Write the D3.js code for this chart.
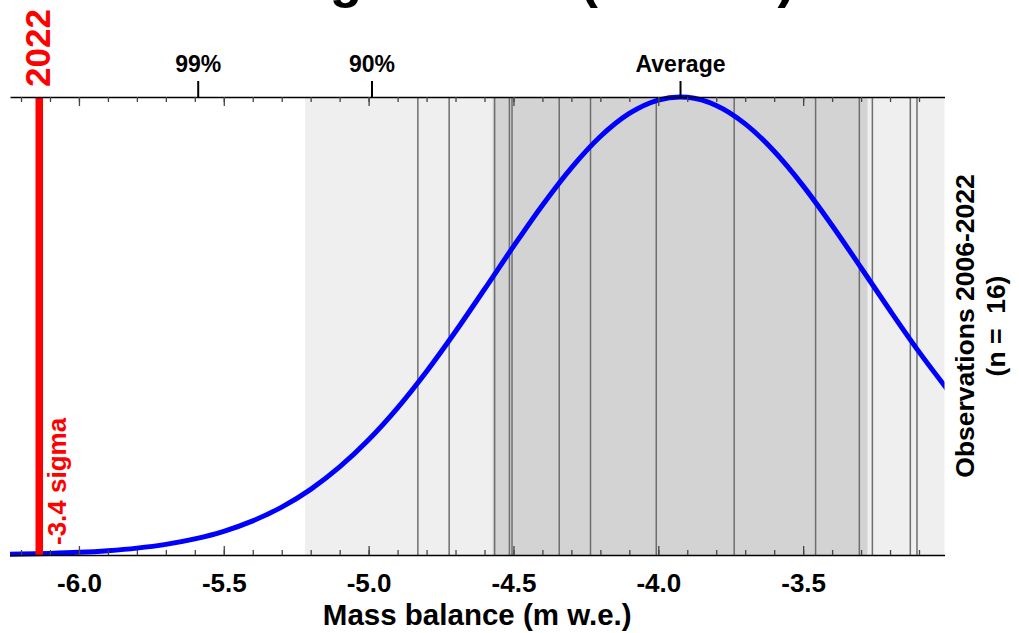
<!DOCTYPE html>
<html>
<head>
<meta charset="utf-8">
<script src="https://cdn.jsdelivr.net/npm/d3@7"></script>
<style>
  body { margin: 0; background: #fff; }
  svg text { font-family: "Liberation Sans", Arial, sans-serif; font-weight: bold; }
</style>
</head>
<body>
<div id="container"></div>
<script>
// single years 2006-2022 (m w.e.)
const observations = [-4.830, -4.722, -4.565, -4.514, -4.505, -4.342, -4.234, -4.007,
                      -3.738, -3.457, -3.306, -3.261, -3.130, -3.107];
const meanValue = -3.925;
const sdValue = 0.647;
const year2022 = -6.137;

// fitted normal curve, relative density
const curveX = [-6.24, -6.2, -6.1, -6.0, -5.9, -5.8, -5.7, -5.6, -5.5, -5.4, -5.3, -5.2, -5.1,
                -5.0, -4.9, -4.8, -4.7, -4.6, -4.5, -4.4, -4.3, -4.2, -4.1, -4.0, -3.925,
                -3.9, -3.8, -3.7, -3.6, -3.5, -3.4, -3.3, -3.2, -3.1, -3.0];
const curveY = [0.0017, 0.0021, 0.0035, 0.0058, 0.0095, 0.0150, 0.0232, 0.0351, 0.0517, 0.0744,
                0.1046, 0.1434, 0.1922, 0.2515, 0.3213, 0.4007, 0.4880, 0.5803, 0.6738, 0.7638,
                0.8454, 0.9137, 0.9641, 0.9933, 1.0, 0.9993, 0.9815, 0.9413, 0.8815, 0.8060,
                0.7195, 0.6272, 0.5338, 0.4435, 0.3599];

const majorTicks = [-6.0, -5.5, -5.0, -4.5, -4.0, -3.5];
const topLabels = ["99%", "90%", "Average"];
const topValues = [-5.590, -4.990, -3.925];

const W = 1019, H = 633;
const pLeft = 10, pRight = 944.5, pTop = 97, pBottom = 555;

const x = d3.scaleLinear().domain([-6.238, -3.012]).range([pLeft, pRight]);
const y = d3.scaleLinear().domain([0, 1]).range([pBottom, pTop]);

const svg = d3.select("#container").append("svg")
  .attr("width", W)
  .attr("height", H);

svg.append("defs").append("clipPath").attr("id", "plotclip")
  .append("rect")
  .attr("x", pLeft).attr("y", pTop - 5)
  .attr("width", pRight - pLeft).attr("height", pBottom - pTop + 10);

const plot = svg.append("g").attr("clip-path", "url(#plotclip)");

// +-2 sigma and +-1 sigma bands
plot.append("rect")
  .attr("x", x(meanValue - 2 * sdValue))
  .attr("y", pTop)
  .attr("width", x(meanValue + 2 * sdValue) - x(meanValue - 2 * sdValue))
  .attr("height", pBottom - pTop)
  .attr("fill", "#efefef");

plot.append("rect")
  .attr("x", x(meanValue - sdValue))
  .attr("y", pTop)
  .attr("width", x(meanValue + sdValue) - x(meanValue - sdValue))
  .attr("height", pBottom - pTop)
  .attr("fill", "#d3d3d3");

// observation lines
plot.selectAll("line.obs")
  .data(observations)
  .enter()
  .append("line")
  .attr("class", "obs")
  .attr("x1", d => x(d)).attr("x2", d => x(d))
  .attr("y1", pTop).attr("y2", pBottom)
  .attr("stroke", "#6e6e6e")
  .attr("stroke-width", 1.5);

// fitted curve
const line = d3.line()
  .x((d, i) => x(curveX[i]))
  .y(d => y(d))
  .curve(d3.curveMonotoneX);

plot.append("path")
  .datum(curveY)
  .attr("d", line)
  .attr("fill", "none")
  .attr("stroke", "#0000ff")
  .attr("stroke-width", 5);

// 2022 line
svg.append("line")
  .attr("x1", x(year2022)).attr("x2", x(year2022))
  .attr("y1", pTop).attr("y2", pBottom)
  .attr("stroke", "#ff0000")
  .attr("stroke-width", 7.5);

// bottom axis
const minorTicks = d3.range(-6.2, -3.0, 0.1).map(d => Math.round(d * 10) / 10);

svg.append("g")
  .attr("transform", "translate(0," + pBottom + ")")
  .call(d3.axisBottom(x).tickValues(minorTicks).tickSize(-5).tickSizeOuter(0).tickFormat(""))
  .call(g => g.selectAll(".tick line").attr("stroke", "#444").attr("stroke-width", 1.3))
  .call(g => g.select(".domain").attr("stroke", "#000").attr("stroke-width", 1.5));

svg.append("g")
  .attr("transform", "translate(0," + pBottom + ")")
  .call(d3.axisBottom(x).tickValues(majorTicks).tickSize(-9).tickSizeOuter(0))
  .call(g => g.select(".domain").remove())
  .call(g => g.selectAll(".tick line").attr("stroke", "#444").attr("stroke-width", 1.3))
  .call(g => g.selectAll(".tick text")
    .attr("y", 37).attr("dy", null)
    .attr("fill", "#000")
    .style("font-size", "26px")
    .text(d => d.toFixed(1)));

// top axis
svg.append("g")
  .attr("transform", "translate(0," + pTop + ")")
  .call(d3.axisTop(x).tickValues(minorTicks).tickSize(-5).tickSizeOuter(0).tickFormat(""))
  .call(g => g.selectAll(".tick line").attr("stroke", "#444").attr("stroke-width", 1.3))
  .call(g => g.select(".domain").attr("stroke", "#000").attr("stroke-width", 1.5));

svg.append("g")
  .attr("transform", "translate(0," + pTop + ")")
  .call(d3.axisTop(x).tickValues(majorTicks).tickSize(-9).tickSizeOuter(0).tickFormat(""))
  .call(g => g.select(".domain").remove())
  .call(g => g.selectAll(".tick line").attr("stroke", "#444").attr("stroke-width", 1.3));

// probability / average ticks on top
const annot = svg.append("g")
  .attr("transform", "translate(0," + pTop + ")")
  .call(d3.axisTop(x).tickValues(topValues).tickSize(16).tickSizeOuter(0)
    .tickFormat((d, i) => topLabels[i]));
annot.select(".domain").remove();
annot.selectAll(".tick line").attr("stroke", "#000").attr("stroke-width", 2);
annot.selectAll(".tick text")
  .attr("y", -25).attr("dy", null)
  .attr("fill", "#000")
  .style("font-size", "23px");

// axis title
svg.append("text")
  .attr("x", (pLeft + pRight) / 2)
  .attr("y", 625)
  .attr("text-anchor", "middle")
  .style("font-size", "29.5px")
  .text("Mass balance (m w.e.)");

// right side label
const rlab = svg.append("text")
  .attr("transform", "translate(974,326) rotate(-90)")
  .attr("text-anchor", "middle")
  .attr("xml:space", "preserve")
  .style("font-size", "26.5px");
rlab.append("tspan").attr("x", 0).attr("y", 0).text("Observations 2006-2022");
rlab.append("tspan").attr("x", 0).attr("y", 31).text("(n =  16)");

// red labels
svg.append("text")
  .attr("transform", "translate(50,87) rotate(-90)")
  .attr("fill", "#ff0000")
  .style("font-size", "35px")
  .text("2022");

svg.append("text")
  .attr("transform", "translate(66,545) rotate(-90)")
  .attr("fill", "#ff0000")
  .style("font-size", "26px")
  .text("-3.4 sigma");

// title (mostly above the visible area)
svg.append("text")
  .attr("x", 165)
  .attr("y", -3)
  .style("font-size", "53px")
  .text("Rhonegletscher (Annual)");
</script>
</body>
</html>
